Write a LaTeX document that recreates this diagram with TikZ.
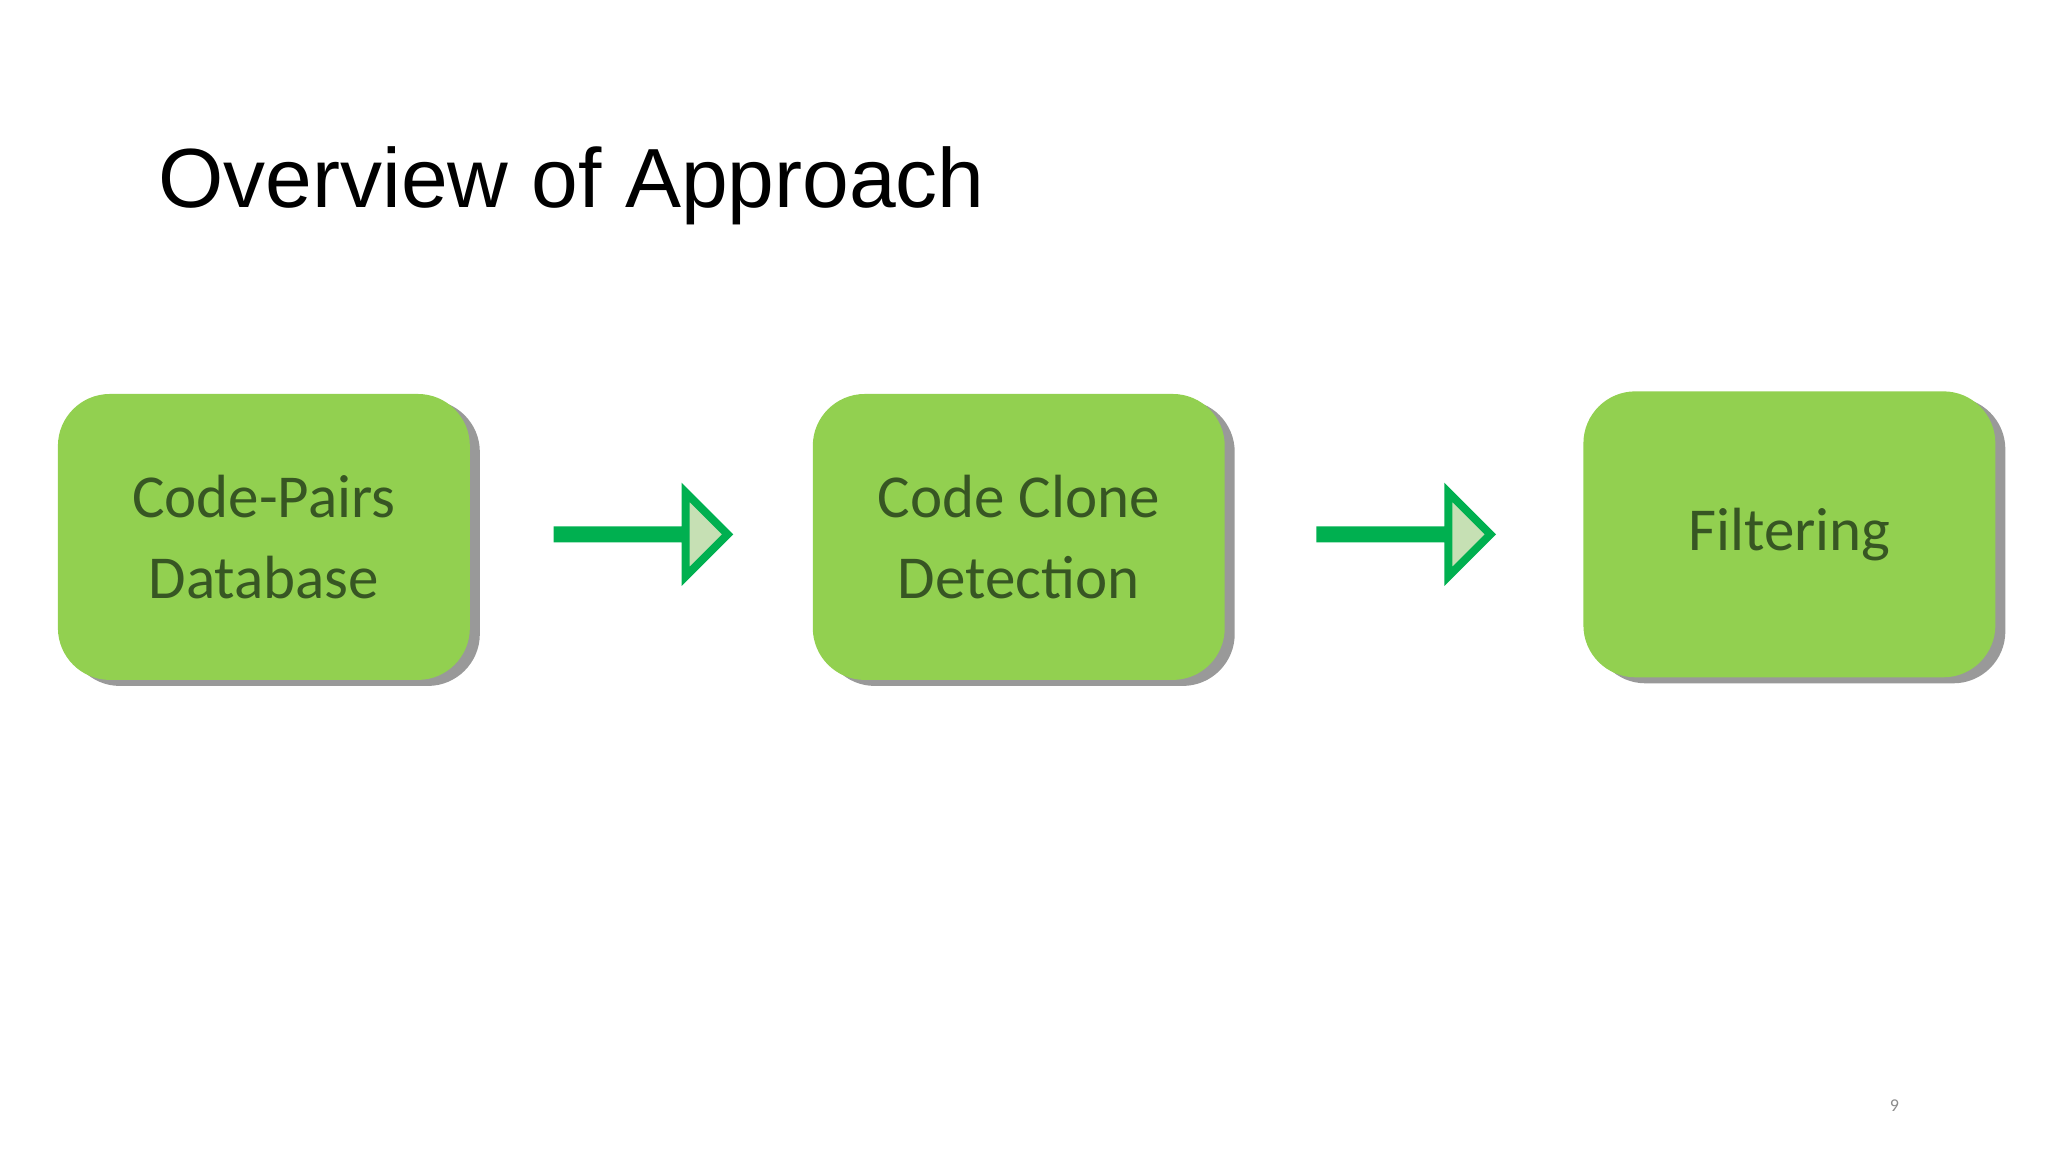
\documentclass[tikz,border=0pt]{standalone}
\usepackage{fontspec}
\setmainfont{Carlito}
\newfontfamily\titlefont{Liberation Sans}
\usetikzlibrary{shapes.arrows,shadows}
\definecolor{boxgreen}{HTML}{92D050}
\definecolor{textgreen}{HTML}{375623}
\definecolor{arrgreen}{HTML}{00B050}
\definecolor{arrfill}{HTML}{C6E0B4}
\begin{document}
\begin{tikzpicture}
[
x=1.313pt, y=-1.313pt,
stepBox/.style={
	rectangle,
	rounded corners=52pt,
	fill=boxgreen,
	minimum width=412pt,
	minimum height=286pt,
	text=textgreen,
	align=center,
	font=\fontsize{61}{81}\selectfont,
	drop shadow={shadow xshift=10pt, shadow yshift=-6pt, fill=black!40, opacity=1}},
flowArr/.style={
	single arrow,
	draw=arrgreen,
	line width=8pt,
	fill=arrfill,
	minimum height=170pt,
	minimum width=70pt,
	single arrow head extend=38pt,
	single arrow tip angle=90,
	inner sep=0pt}
]
\useasboundingbox (0,0) rectangle (1560,877.5);

\node[anchor=base west, font=\titlefont\fontsize{84}{90}\selectfont] (title) at (118,158) {Overview of Approach};

%process steps
\node[stepBox] (db) at (201,409) {Code-Pairs\\Database};
\node[stepBox] (ccd) at (776,409) {Code Clone\\Detection};
\node[stepBox] (filt) at (1363,407) {Filtering};

%block arrows
\node[flowArr] (a1) at (488,407) {};
\node[flowArr] (a2) at (1069,407) {};

\node[text=black!45, font=\fontsize{18}{20}\selectfont] (pnum) at (1443,842) {9};
\end{tikzpicture}
\end{document}
